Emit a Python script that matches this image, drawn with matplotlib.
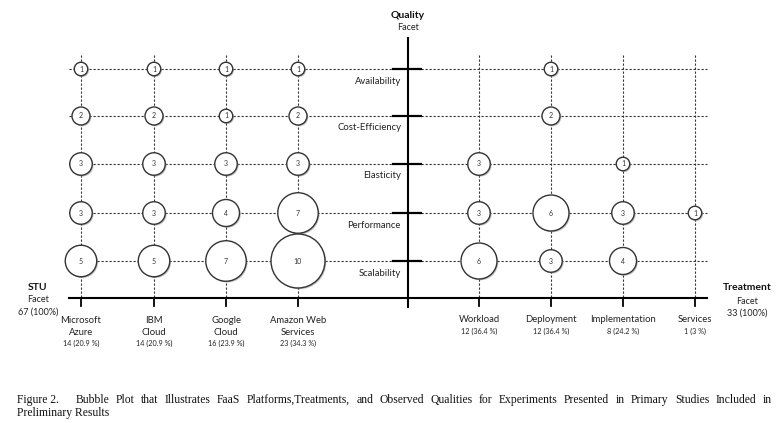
import matplotlib
matplotlib.use("Agg")
import matplotlib.pyplot as plt
from matplotlib.patches import Circle

# ---- data ----
platforms = ["Microsoft\nAzure", "IBM\nCloud", "Google\nCloud", "Amazon Web\nServices"]
platform_counts = ["14 (20.9 %)", "14 (20.9 %)", "16 (23.9 %)", "23 (34.3 %)"]
treatments = ["Workload", "Deployment", "Implementation", "Services"]
treatment_counts = ["12 (36.4 %)", "12 (36.4 %)", "8 (24.2 %)", "1 (3 %)"]
qualities = ["Availability", "Cost-Efficiency", "Elasticity", "Performance", "Scalability"]
# bubble values per column, one per quality (0 = no bubble)
platform_bubbles = [[1, 2, 3, 3, 5],
                    [1, 2, 3, 3, 5],
                    [1, 1, 3, 4, 7],
                    [1, 2, 3, 7, 10]]
treatment_bubbles = [[0, 0, 3, 3, 6],
                     [1, 2, 0, 6, 3],
                     [0, 0, 1, 3, 4],
                     [0, 0, 0, 1, 0]]
caption_head = "Figure 2."
caption1 = ("Bubble Plot that Illustrates FaaS Platforms,Treatments, and Observed "
            "Qualities for Experiments Presented in Primary Studies Included in")
caption2 = "Preliminary Results"

# ---- layout (pixel space) ----
W, H = 782, 423
left_x = [81, 154, 226, 298]
right_x = [479, 551, 623, 695]
row_y = [69, 116, 164, 213, 261]
axis_x, axis_y = 408, 298
x_lo, x_hi = 69, 707
grid_top = 55

fig = plt.figure(figsize=(W / 100, H / 100), dpi=100)
ax = fig.add_axes([0, 0, 1, 1])
ax.set_xlim(0, W)
ax.set_ylim(H, 0)
ax.axis("off")

font = ["Lato", "DejaVu Sans"]
dash = dict(color="#333333", lw=0.8, linestyle=(0, (2, 1.6)), zorder=1)

# grid of dashed lines
for y in row_y:
    ax.plot([x_lo, 393], [y, y], **dash)
    ax.plot([421, x_hi], [y, y], **dash)
for x in left_x + right_x:
    ax.plot([x, x], [grid_top, axis_y], **dash)

# axes
ax.plot([x_lo, x_hi], [axis_y, axis_y], color="black", lw=1.5, zorder=2)
ax.plot([axis_x, axis_x], [38, 307], color="black", lw=1.5, zorder=2)
for y in row_y:
    ax.plot([393, 421], [y, y], color="black", lw=1.6, zorder=2)
for x in left_x + right_x:
    ax.plot([x, x], [axis_y, 306], color="black", lw=1.3, zorder=2)


def radius(n):
    return 4.5 + 2.25 * n


def bubble(x, y, n):
    r = radius(n)
    ax.add_patch(Circle((x + 1.3, y + 1.3), r, facecolor="#9a9a9a", edgecolor="none",
                        alpha=0.6, zorder=3))
    ax.add_patch(Circle((x, y), r, facecolor="white", edgecolor="#333333", lw=1.0, zorder=4))
    ax.text(x, y, str(n), ha="center", va="center", fontsize=5, family=font,
            color="#333333", zorder=5)


for x, vals in zip(left_x, platform_bubbles):
    for y, n in zip(row_y, vals):
        if n:
            bubble(x, y, n)
for x, vals in zip(right_x, treatment_bubbles):
    for y, n in zip(row_y, vals):
        if n:
            bubble(x, y, n)

# quality labels
for y, q in zip(row_y, qualities):
    ax.text(401, y + 12, q, ha="right", va="center", fontsize=6.8, family=font,
            color="#222222")

# column labels
for x, name, cnt in zip(left_x, platforms, platform_counts):
    ax.text(x, 326.5, name, ha="center", va="center", fontsize=6.8, family=font,
            color="#222222", linespacing=1.3)
    ax.text(x, 343.5, cnt, ha="center", va="center", fontsize=5.2, family=font,
            color="#222222")
for x, name, cnt in zip(right_x, treatments, treatment_counts):
    ax.text(x, 320, name, ha="center", va="center", fontsize=6.8, family=font,
            color="#222222")
    ax.text(x, 331.5, cnt, ha="center", va="center", fontsize=5.2, family=font,
            color="#222222")

# facet titles
for x, y0, title, sub in [(408, 15, "Quality", ["Facet"]),
                          (38, 287, "STU", ["Facet", "67 (100%)"]),
                          (747, 288, "Treatment", ["Facet", "33 (100%)"])]:
    ax.text(x, y0, title, ha="center", va="center", fontsize=7.5, family=font,
            weight="bold", color="#111111")
    for i, s in enumerate(sub):
        ax.text(x, y0 + 13 + 12.5 * i, s, ha="center", va="center", fontsize=6.5,
                family=font, color="#222222")

# caption, first line justified
cap_font = dict(fontsize=8.4, family=["Liberation Serif", "DejaVu Serif"], color="#111111",
                va="center")
words = [caption_head] + caption1.split(" ")
renderer = fig.canvas.get_renderer()
items = [ax.text(0, 400, w, ha="left", **cap_font) for w in words]
inv = ax.transData.inverted()
widths = []
for t in items:
    bb = t.get_window_extent(renderer)
    x0 = inv.transform((bb.x0, bb.y0))[0]
    x1 = inv.transform((bb.x1, bb.y0))[0]
    widths.append(x1 - x0)
cap_l, cap_r = 17, 772
extra = 10
gap = (cap_r - cap_l - sum(widths) - extra) / (len(words) - 1)
xc = cap_l
for i, (t, w) in enumerate(zip(items, widths)):
    t.set_x(xc)
    xc += w + gap + (extra if i == 0 else 0)
ax.text(cap_l, 413, caption2, ha="left", **cap_font)

fig.savefig("out.png", dpi=100)
